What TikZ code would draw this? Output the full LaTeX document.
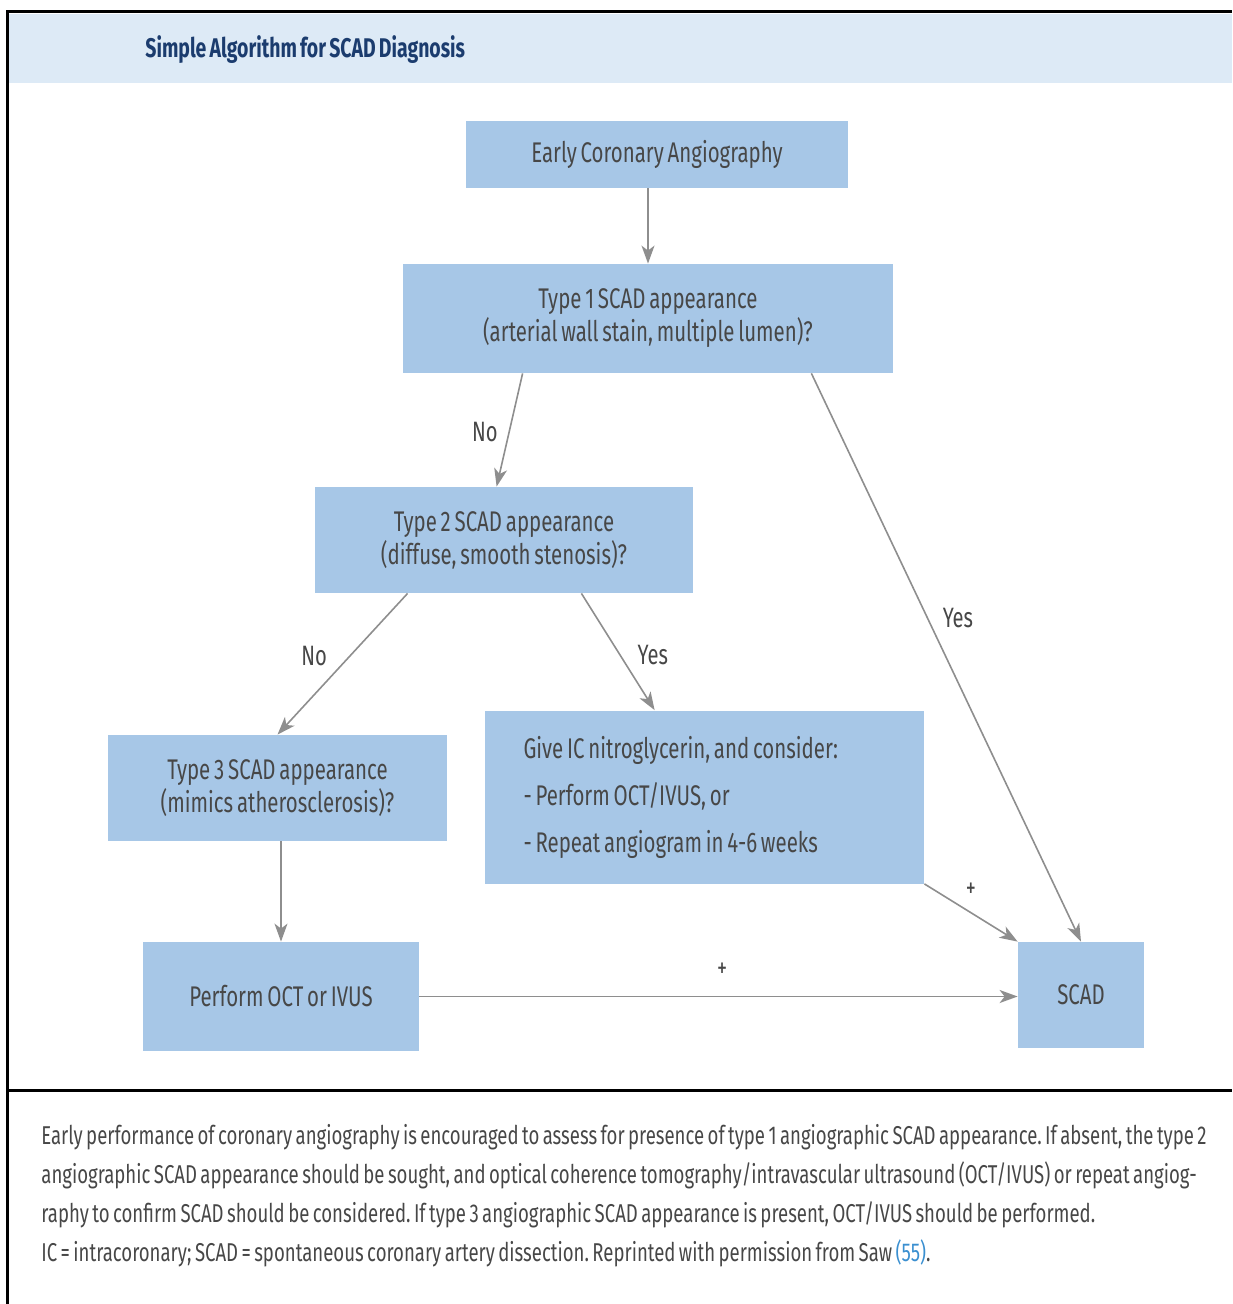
\documentclass[tikz,border=0pt]{standalone}
\usepackage{fontspec}
\setmainfont{Fira Sans}[FakeStretch=0.72, WordSpace=0.7]
\usepackage{tikz}
\usetikzlibrary{arrows.meta,positioning,calc}
\definecolor{boxblue}{HTML}{A7C7E7}
\definecolor{bandblue}{HTML}{DDEAF6}
\definecolor{titlenavy}{HTML}{1B3C6E}
\definecolor{linegray}{HTML}{8E8E8E}
\definecolor{textgray}{HTML}{474747}
\definecolor{refblue}{HTML}{3A8FD0}
\frenchspacing

\begin{document}
\begin{tikzpicture}[x=0.5pt, y=-0.5pt,
    stepbox/.style={fill=boxblue, draw=none, inner sep=0pt, align=center, text=textgray, font=\fontsize{14.2}{16.5}\selectfont},
    arrow/.style={-{Stealth[length=9pt, width=6.5pt, inset=2.5pt]}, line width=0.8pt, color=linegray},
    lab/.style={font=\fontsize{14}{16}\selectfont, text=textgray}
]
\useasboundingbox (0,0) rectangle (1232,1304);

% frame and title band
\fill[bandblue] (9,14) rectangle (1232,83);
\draw[line width=1.5pt] (7,1304) -- (7,12) -- (1232,12);
\draw[line width=1.5pt] (7,1090) -- (1232,1090);
\node[anchor=west, inner sep=0pt, text=titlenavy, font=\fontsize{13.5}{16}\selectfont\bfseries] (title) at (145,50) {Simple Algorithm for SCAD Diagnosis};

% boxes
\node[stepbox, minimum width=191pt, minimum height=33.5pt] (start) at (657,154.5) {Early Coronary Angiography};
\node[stepbox, minimum width=245pt, minimum height=54.5pt] (type1) at (648,318.5) {Type 1 SCAD appearance\\(arterial wall stain, multiple lumen)?};
\node[stepbox, minimum width=189pt, minimum height=53pt] (type2) at (504,540) {Type 2 SCAD appearance\\(diffuse, smooth stenosis)?};
\node[stepbox, minimum width=169.5pt, minimum height=53pt] (type3) at (277.5,788) {Type 3 SCAD appearance\\(mimics atherosclerosis)?};
\node[stepbox, minimum height=86.5pt, text width=181pt, inner xsep=19.25pt, align=flush left, font=\fontsize{14.2}{23.5}\selectfont] (nitro) at (704.5,797) {Give IC nitroglycerin, and consider:\\- Perform OCT/IVUS, or\\- Repeat angiogram in 4-6 weeks};
\node[stepbox, minimum width=138pt, minimum height=54.5pt] (oct) at (281,996.5) {Perform OCT or IVUS};
\node[stepbox, minimum width=63pt, minimum height=53pt] (scad) at (1081,995) {SCAD};

% connectors
\draw[arrow] (start.south -| type1.north) -- (type1.north);
\draw[arrow] ([xshift=60pt]type1.south west) -- node[lab, pos=0.52, left=2pt] {No} ([xshift=91pt]type2.north west);
\draw[arrow] ([xshift=-41pt]type1.south east) -- node[lab, pos=0.43, right=4pt] {Yes} (scad.north);
\draw[arrow] ([xshift=46.5pt]type2.south west) -- node[lab, pos=0.44, left=8pt] {No} (type3.north);
\draw[arrow] ([xshift=-56pt]type2.south east) -- node[lab, pos=0.53, right=5pt] {Yes} ([xshift=85pt]nitro.north west);
\draw[arrow] (type3.south -| oct.north) -- (oct.north);
\draw[arrow] (nitro.south east) -- node[lab, pos=0.5, above=4pt] {+} (scad.north west);
\draw[arrow] (oct.east) -- node[lab, pos=0.506, above=6pt] {+} (scad.west |- oct.east);

% caption
\node[anchor=north west, inner sep=0pt, align=flush left, text=textgray, font=\fontsize{12.9}{19.5}\selectfont] (caption) at (41,1124) {Early performance of coronary angiography is encouraged to assess for presence of type 1 angiographic SCAD appearance. If absent, the type 2\\angiographic SCAD appearance should be sought, and optical coherence tomography/intravascular ultrasound (OCT/IVUS) or repeat angiog-\\raphy to confirm SCAD should be considered. If type 3 angiographic SCAD appearance is present, OCT/IVUS should be performed.\\IC = intracoronary; SCAD = spontaneous coronary artery dissection. Reprinted with permission from Saw \textcolor{refblue}{(55)}.};
\end{tikzpicture}
\end{document}
